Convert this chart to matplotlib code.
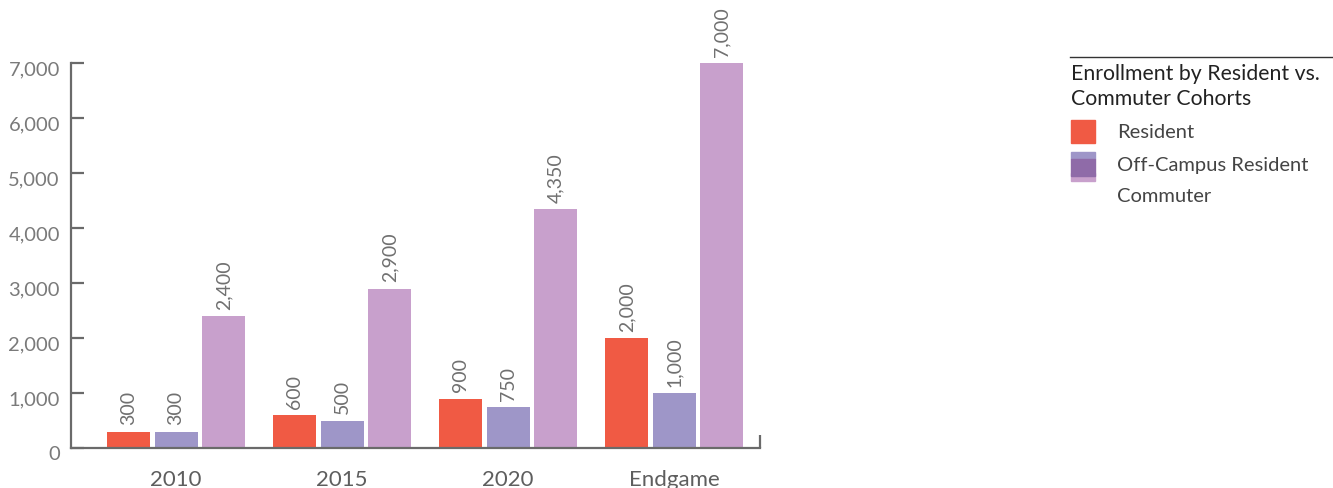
import numpy as np
import matplotlib.pyplot as plt
import matplotlib.transforms as mtransforms
from matplotlib.patches import Rectangle
from matplotlib.lines import Line2D

plt.rcParams['font.family'] = ['Lato', 'DejaVu Sans']

# enrollment per cohort
categories = ["2010", "2015", "2020", "Endgame"]
resident = [300, 600, 900, 2000]
off_campus = [300, 500, 750, 1000]
commuter = [2400, 2900, 4350, 7000]

series = [("Resident", resident, "#f05a44"),
          ("Off-Campus Resident", off_campus, "#9e96c8"),
          ("Commuter", commuter, "#c8a0cc")]

fig = plt.figure(figsize=(13.33, 4.89), dpi=100)
ax = fig.add_axes([71/1333, 40/489, 689/1333, 385/489])

x = np.arange(len(categories))
w = 0.259
step = 0.286
for k, (name, vals, col) in enumerate(series):
    pos = x + (k - 1) * step
    ax.bar(pos, vals, width=w, color=col, zorder=2)
    for p, v in zip(pos, vals):
        ax.text(p, v + 130, f"{v:,}", rotation=90, ha="center", va="bottom",
                fontsize=14, color="#707070")

ax.set_xlim(-0.633, 3.518)
ax.set_ylim(0, 7000)
ax.set_yticks(np.arange(0, 7001, 1000))
ax.set_yticklabels([f"{t:,}" for t in range(0, 7001, 1000)])
ax.set_xticks(x)
ax.set_xticklabels(categories)

for s in ["top", "right"]:
    ax.spines[s].set_visible(False)
for s in ["left", "bottom"]:
    ax.spines[s].set_color("#6a6a6a")
    ax.spines[s].set_linewidth(1.6)

ax.tick_params(axis="y", direction="in", length=9, width=1.6, color="#6a6a6a",
               labelsize=14.5, labelcolor="#7a7a7a", pad=8)
ax.tick_params(axis="x", length=0, labelsize=16, labelcolor="#5e5e5e", pad=15)

# y labels sit a little below their ticks
shift = mtransforms.ScaledTranslation(0, -3/72, fig.dpi_scale_trans)
for lab in ax.get_yticklabels():
    lab.set_transform(lab.get_transform() + shift)

# small end tick on the right of the baseline
ax.plot([1, 1], [0, 0.035], transform=ax.transAxes, color="#6a6a6a",
        lw=1.6, clip_on=False, solid_capstyle="butt")

# legend block
fig.add_artist(Line2D([1070/1333, 1], [1 - 58/489, 1 - 58/489], color="#333333", lw=1))
fig.text(1071/1333, 1 - 74/489, "Enrollment by Resident vs.", fontsize=15.3,
         color="#222222", va="center", ha="left")
fig.text(1071/1333, 1 - 99/489, "Commuter Cohorts", fontsize=15.3,
         color="#222222", va="center", ha="left")

fig.add_artist(Rectangle((1071/1333, 1 - 144/489), 24/1333, 23/489,
                         color="#f05a44", transform=fig.transFigure))
fig.add_artist(Rectangle((1071/1333, 1 - 182/489), 24/1333, 8/489,
                         color="#c8a0cc", transform=fig.transFigure))
fig.add_artist(Rectangle((1071/1333, 1 - 160/489), 24/1333, 7/489,
                         color="#9e96c8", transform=fig.transFigure))
fig.add_artist(Rectangle((1071/1333, 1 - 177/489), 24/1333, 17/489,
                         color="#8f6ba8", transform=fig.transFigure))

for yy, name in [(132, "Resident"), (165, "Off-Campus Resident"), (197, "Commuter")]:
    fig.text(1117/1333, 1 - yy/489, name, fontsize=14.5, color="#444444",
             va="center", ha="left")

fig.savefig("out.png", dpi=100)
